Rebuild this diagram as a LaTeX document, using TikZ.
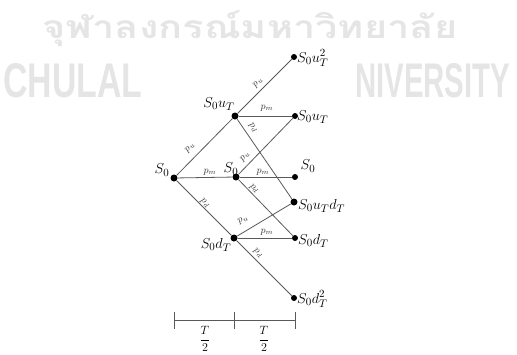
\documentclass[tikz,border=0pt]{standalone}
\usepackage{fontspec}
\usepackage{graphicx}
\newfontfamily\thaifont[Script=Thai]{Loma}
\newfontfamily\wmfont{Liberation Sans}
\begin{document}
\begin{tikzpicture}[x=1pt,y=-1pt,
  wm/.style={inner sep=0pt, text=black!10},
  dot/.style={circle, fill=black, inner sep=0pt, minimum size=7pt},
  sdot/.style={circle, fill=black, inner sep=0pt, minimum size=6pt},
  lnk/.style={draw=black!65, line width=0.8pt},
  slab/.style={inner sep=0pt, font=\fontsize{15}{17}\selectfont},
  plab/.style={inner sep=0pt, font=\fontsize{10}{12}\selectfont, text=black!80},
  tick/.style={draw=black!65, line width=0.8pt}]
\useasboundingbox (0,0) rectangle (517,354);
% watermark
\node[wm, anchor=base west] (wth) at (42,38) {\scalebox{1}[0.8]{\resizebox{415pt}{!}{\thaifont\bfseries จุฬาลงกรณ์มหาวิทยาลัย}}};
\node[wm, anchor=north west] (wc) at (3,63) {\resizebox{139pt}{34pt}{\wmfont\bfseries CHULAL}};
\node[wm, anchor=north west] (wn) at (355,63) {\resizebox{155pt}{34pt}{\wmfont\bfseries NIVERSITY}};
% tree nodes
\node[dot] (r) at (174,178) {};
\node[dot] (mu) at (235,116) {};
\node[dot] (mm) at (236,177) {};
\node[dot] (md) at (234,238) {};
\node[sdot] (ru2) at (294,57) {};
\node[sdot] (ru) at (295,116) {};
\node[sdot] (rm) at (295,177) {};
\node[dot] (rud) at (294,202) {};
\node[sdot] (rd) at (295,238) {};
\node[sdot] (rd2) at (294,298) {};
% connectors
\draw[lnk] (r) -- (mu);
\draw[lnk] (r) -- (mm);
\draw[lnk] (r) -- (md);
\draw[lnk] (mu) -- (ru2);
\draw[lnk] (mu) -- (ru);
\draw[lnk] (mu) -- (rud);
\draw[lnk] (mm) -- (ru);
\draw[lnk] (mm) -- (rm);
\draw[lnk] (mm) -- (rd);
\draw[lnk] (md) -- (rud);
\draw[lnk] (md) -- (rd);
\draw[lnk] (md) -- (rd2);
% node labels
\node[slab] (lr) at (162,170) {$S_0$};
\node[slab] (lmu) at (219,104) {$S_0u_T$};
\node[slab] (lmm) at (231,169) {$S_0$};
\node[slab] (lmd) at (216,245) {$S_0d_T$};
\node[slab, anchor=west] (lru2) at (297,58) {$S_0u_T^2$};
\node[slab, anchor=west] (lru) at (297,117) {$S_0u_T$};
\node[slab] (lrm) at (308,166) {$S_0$};
\node[slab, anchor=west] (lrud) at (298,206) {$S_0u_Td_T$};
\node[slab, anchor=west] (lrd) at (298,241) {$S_0d_T$};
\node[slab, anchor=west] (lrd2) at (297,299) {$S_0d_T^2$};
% probability labels
\node[plab, rotate=45] (p1) at (190,148) {$p_u$};
\node[plab] (p2) at (210,172) {$p_m$};
\node[plab, rotate=-45] (p3) at (205,203) {$p_d$};
\node[plab, rotate=45] (p4) at (258,83) {$p_u$};
\node[plab] (p5) at (267,108) {$p_m$};
\node[plab, rotate=-55] (p6) at (253,128) {$p_d$};
\node[plab, rotate=46] (p7) at (245,157) {$p_u$};
\node[plab] (p8) at (263,172) {$p_m$};
\node[plab, rotate=-46] (p9) at (254,189) {$p_d$};
\node[plab, rotate=31] (p10) at (243,220) {$p_u$};
\node[plab] (p11) at (267,232) {$p_m$};
\node[plab, rotate=-45] (p12) at (258,253) {$p_d$};
% time axis
\coordinate (t0) at (174,320);
\coordinate (t1) at (234,320);
\coordinate (t2) at (295,320);
\draw[tick] (t0) -- (t2);
\draw[tick] ([yshift=-9pt]t0) -- ([yshift=8pt]t0);
\draw[tick] ([yshift=-9pt]t1) -- ([yshift=8pt]t1);
\draw[tick] ([yshift=-9pt]t2) -- ([yshift=8pt]t2);
\node[inner sep=0pt, font=\fontsize{13}{15}\selectfont] (f1) at (205,339) {$\displaystyle\frac{T}{2}$};
\node[inner sep=0pt, font=\fontsize{13}{15}\selectfont] (f2) at (264,339) {$\displaystyle\frac{T}{2}$};
\end{tikzpicture}
\end{document}
